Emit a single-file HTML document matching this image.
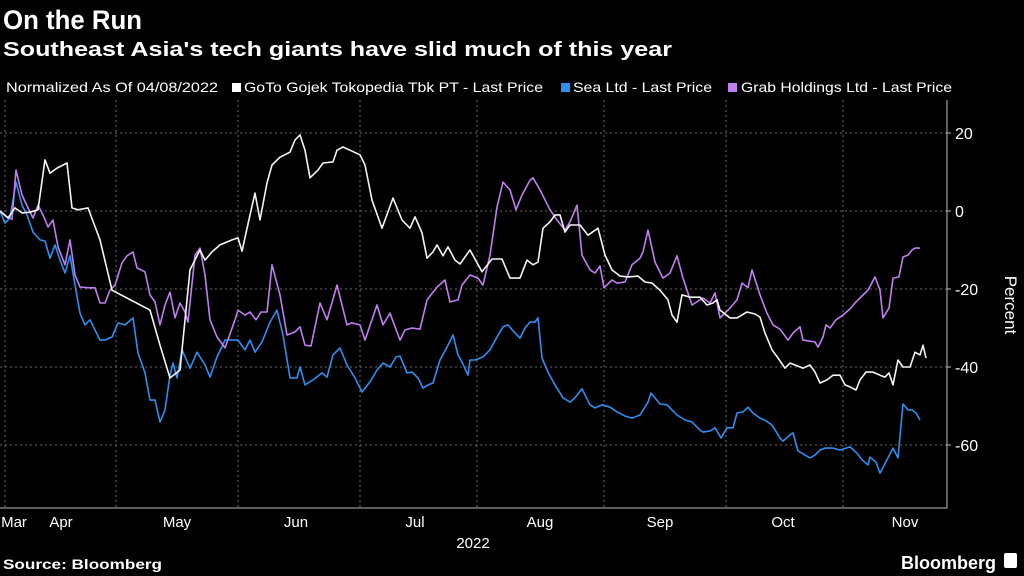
<!DOCTYPE html>
<html><head><meta charset="utf-8">
<style>
body{margin:0;background:#000;width:1024px;height:576px;overflow:hidden;font-family:"Liberation Sans",sans-serif;color:#fff}
svg{position:absolute;left:0;top:0}
</style></head>
<body>
<svg width="1024" height="576">
<text x="3" y="29" font-size="27" font-weight="bold" fill="#fff" textLength="139" lengthAdjust="spacingAndGlyphs">On the Run</text>
<text x="3" y="56" font-size="20" font-weight="bold" fill="#fff" textLength="669" lengthAdjust="spacingAndGlyphs">Southeast Asia's tech giants have slid much of this year</text>
<g font-size="14" fill="#fff">
<text x="6" y="92" textLength="212" lengthAdjust="spacingAndGlyphs">Normalized As Of 04/08/2022</text>
<rect x="232" y="83" width="9" height="9" fill="#fff"/>
<text x="244" y="92" textLength="299" lengthAdjust="spacingAndGlyphs">GoTo Gojek Tokopedia Tbk PT - Last Price</text>
<rect x="561" y="83" width="9" height="9" fill="#2d8ff0"/>
<text x="573" y="92" textLength="139" lengthAdjust="spacingAndGlyphs">Sea Ltd - Last Price</text>
<rect x="728" y="83" width="9" height="9" fill="#c07ef0"/>
<text x="741" y="92" textLength="211" lengthAdjust="spacingAndGlyphs">Grab Holdings Ltd - Last Price</text>
</g>
<g id="grid"></g>
<g id="axes"></g>
<g id="series"></g>
<text x="473" y="548" font-size="15" fill="#fff" text-anchor="middle">2022</text>
<text transform="translate(1005,305) rotate(90)" font-size="17" fill="#fff" text-anchor="middle">Percent</text>
<text x="3" y="569" font-size="14" font-weight="bold" fill="#fff" textLength="159" lengthAdjust="spacingAndGlyphs">Source: Bloomberg</text>
<text x="996" y="569" font-size="18" font-weight="bold" fill="#fff" text-anchor="end">Bloomberg</text>
<rect x="1004" y="553" width="13" height="15" rx="2" fill="#fff"/>
</svg>
<script>
const monthLabels=["Mar","Apr","May","Jun","Jul","Aug","Sep","Oct","Nov"];
const monthDays=[2.8,12.2,35.4,59.2,83,108,132,156.6,181];
const gridDays=[1,23.2,47.6,72,95.4,120.8,145.2,168.6];
const yTicks=[20,0,-20,-40,-60];
const gotoDays=[0,1.6,3,4.4,6,7.6,9,10,11.4,13.4,14.4,15.6,17.6,20,22.4,30,32,34,36,38,40,41,42.4,44,46.4,47.6,48.4,50,51,52,53.4,54.4,56,58,59,60,61,62,63.6,64.6,66.6,67.4,68.6,70,72,73,74.4,76.4,78.6,80.4,82,83,84.4,85.4,86.6,87.4,88.6,89.6,91,92,94,96.4,98.4,100.4,102,104,105.4,106.6,107.6,108.6,110,111,112,113,114,116,117.6,119.6,121,122.4,124,125.6,127.6,129,130.4,132,133.6,134.4,135.4,136.4,138,140,141.4,142.6,143.4,144,146,147.4,149.4,151,152,153,154.4,155.6,157,158,159.4,160.6,162,163,164,165.4,166.6,168,169,170,171.2,172,173.2,174.6,176,177,177.8,178.6,179.6,180.6,182,183,184,184.6,185.2];
const gotoVals=[0,-1.8,0.8,-0.5,-0.3,0.3,13.1,9.7,11,12.3,0.8,0.3,0.8,-7.4,-20.3,-25.4,-34.4,-42.8,-40.8,-15.1,-10,-12.6,-10.5,-8.7,-7.4,-6.9,-10.3,-1,4.6,-2.3,7.2,11.8,13.8,15.1,18.2,19.5,15.6,8.5,10.5,12.3,12.6,15.6,16.4,15.6,14.4,11.8,2.8,-4.4,3.3,-2.3,-4.4,-1.5,-5.6,-12.1,-10.5,-8.7,-11.5,-9.2,-12.6,-13.6,-10,-15.6,-12.3,-12.3,-17.2,-17.2,-12.6,-13.8,-13.1,-4.4,-2.8,-1,-1,-5.4,-3.6,-3.6,-6.2,-4.4,-11.3,-15.1,-16.7,-16.9,-16.7,-18.2,-18.5,-20.3,-22.8,-26.7,-28.5,-21.5,-22.1,-22.1,-24.1,-23.6,-22.8,-25.4,-27.4,-27.4,-25.9,-26.4,-27.2,-31.3,-35.6,-37.7,-40.3,-39,-39.7,-40.3,-39.5,-41.3,-44.1,-43.3,-42.1,-42.1,-44.6,-45.1,-45.9,-43.3,-41.3,-41.3,-42.1,-42.6,-41.5,-44.6,-38.2,-40,-40,-36.2,-36.9,-34.4,-37.7];
const grabDays=[0,1.4,2.4,3.2,4.4,5.6,6.6,7.6,8.6,9.6,10.6,11.6,13,14,15,16,18,19,20,21,22,23,24.4,25.4,26.6,27.4,29,30,31,32,33,34,35,36,37,37.6,39,40,41,42,43.4,45,47,47.6,49,50,51.2,52.2,53.4,54.4,56,57.4,59,60,61,62.2,64,65.4,67.4,69.4,70.4,72,73,75.4,76.6,78,80,81,82.4,84,85.4,87.4,89,90,91.6,92.4,94,95.6,96.6,98,99.4,100.6,102,103.2,104.4,106,106.6,108,110,111.4,113,114,115.4,116.4,118,119,120,120.8,122.4,123.4,125,126.4,128,128.6,129.6,131,132.6,134,135.4,136.6,138.4,140,140.6,142,143,144,146,147.4,148.4,149.6,150.4,152,153.4,154.6,156,157.6,158.6,160,160.6,163,163.6,164.6,165.2,166,167.2,168.6,170,171.2,172.4,173.6,175,176,176.6,177.8,178.6,179.8,180.6,181.6,182.4,183,184];
const grabVals=[0,-1.5,-2.1,10.5,4.1,0.8,-1.8,1.5,-1,-4.1,-2.3,-9.2,-13.8,-7.4,-16.4,-19.5,-19.7,-19.7,-23.6,-23.6,-20.3,-19,-13.3,-11.5,-10.5,-14.6,-15.6,-21.5,-23.3,-29.2,-24.1,-20.8,-27.4,-23.6,-25.9,-28.5,-11.3,-9.5,-16.4,-27.9,-32.3,-35.1,-27.9,-25.4,-26.7,-25.9,-27.9,-25.9,-25.9,-13.8,-21.5,-31.8,-31,-29.7,-34.4,-34.6,-23.6,-27.9,-19,-29.2,-28.7,-29.2,-33.1,-24.1,-29.2,-26.2,-33.1,-30.5,-30,-30.3,-22.8,-19.5,-17.7,-23.3,-22.8,-19,-16.4,-17.2,-19,-11.3,1,7.4,5.4,0.3,4.1,7.9,8.5,5.4,0.3,-2.3,-4.9,-2.8,1.5,-11.3,-15.1,-15.9,-14.1,-19.7,-17.7,-18.5,-18.2,-13.8,-12.1,-10.5,-4.9,-13.1,-17.2,-15.9,-11.5,-17.2,-24.1,-22.8,-22.3,-23.6,-21,-27.4,-24.9,-22.8,-18.5,-19.7,-15.1,-21.5,-26.2,-29.2,-30.3,-33.1,-31.3,-29.7,-33.1,-33.6,-34.9,-32.3,-29.2,-30,-27.9,-26.7,-25.1,-23.3,-21.8,-20.3,-16.9,-20.3,-27.4,-24.9,-17.2,-16.9,-11.8,-11.3,-10,-9.5,-9.5];
const seaDays=[0,1,2,3.2,4.4,5.4,6.6,8,9,10,11,12,13,14,15,16,17,18,20,21,22.4,23.6,25,26.6,27.6,29,30,31,32,33,34,34.6,35.4,36.4,38,39.4,41,42,43.4,45,47.6,49,50,51,52.4,54,55.4,56.6,58,59.4,60,61,62.6,64.4,65.4,66.6,68,69.4,71,72.4,74,75.4,76.6,78,79.2,80,81.4,82.4,83.6,84.6,85.6,86.6,88,89.4,90.6,91.6,92.4,93.6,94,95,96.6,98,99.4,100.6,101.6,103,104,105,106,107,107.6,108.4,109.6,111,112.6,114,115,116.4,118,119,120.4,122,123.4,125,126.4,128,129.6,130.2,132,133.4,134.4,135.4,137,138.4,140,140.6,142,143,144.2,145.4,146.6,147.4,148.6,149.6,150.6,152,153.2,154.4,156,156.6,158,158.6,159.6,161,162,163,164,165,166.6,168,170,171.4,172.4,173.6,174,175.2,176,177.4,178.6,179.6,180.6,181.6,182.4,183.2,184];
const seaVals=[0,-3.1,-1.8,7.4,1.5,-1,-5.4,-7.4,-7.7,-12.1,-8.7,-12.6,-15.9,-11.5,-19,-26.2,-29.2,-27.9,-33.1,-33.1,-32.3,-28.7,-29.2,-27.4,-36.4,-41.5,-48.5,-48.5,-54.1,-51,-42.1,-39,-42.8,-35.6,-40.3,-36.2,-39.5,-42.6,-37.4,-33.1,-33.1,-35.6,-33.1,-36.2,-33.6,-28.5,-25.4,-31.8,-42.8,-42.8,-40,-44.6,-43.3,-41.5,-42.6,-36.9,-35.1,-39.5,-42.8,-46.4,-43.8,-40.8,-39,-40,-37.4,-37.2,-41.5,-41.3,-42.8,-45.4,-44.6,-44.1,-38.2,-34.9,-31.8,-36.9,-38.7,-42.1,-38.2,-38.2,-37.4,-35.6,-32.3,-29.7,-29.2,-31.3,-32.6,-30,-28.5,-28.5,-27.4,-37.7,-41.3,-44.6,-47.9,-49,-47.9,-45.6,-49.7,-50.5,-49.7,-50.3,-51.5,-52.6,-53.1,-52.3,-49,-46.7,-49.5,-49.7,-51,-52.3,-53.6,-54.1,-56.2,-56.7,-56.4,-55.6,-58.2,-55.6,-55.6,-51.8,-51.5,-50.3,-51.8,-53.1,-53.8,-54.9,-58.2,-59,-57.4,-56.9,-61.5,-62.6,-63.3,-62.6,-61.3,-60.8,-60.8,-61.3,-60.5,-62.1,-63.8,-65.1,-63.1,-64.4,-67.2,-63.8,-60.8,-63.3,-49.5,-51,-51,-51.8,-53.6];

const NS="http://www.w3.org/2000/svg";
const X0=0,X1=940,D0=0,D1=188;
const Y0=211,PPU=3.9;
const PL=0,PR=947,PT=100,PB=508;
function xs(d){return X0+(d-D0)/(D1-D0)*(X1-X0);}
function ys(v){return Y0-v*PPU;}
function mk(tag,attrs,parent){const e=document.createElementNS(NS,tag);for(const k in attrs)e.setAttribute(k,attrs[k]);parent.appendChild(e);return e;}
const grid=document.getElementById('grid'),axes=document.getElementById('axes'),ser=document.getElementById('series');
gridDays.forEach((d,i)=>{
 const l=mk('line',{x1:xs(d),x2:xs(d),y1:PT,y2:PB,stroke:'#6a6a6a','stroke-width':1,'stroke-dasharray':'2,3'},grid);
 
 
});
yTicks.forEach(v=>{
 const l=mk('line',{x1:PL,x2:PR,y1:ys(v),y2:ys(v),stroke:'#6a6a6a','stroke-width':1,'stroke-dasharray':'2,3'},grid);
 
 
 const t=mk('line',{x1:PR,x2:PR+4,y1:ys(v),y2:ys(v),stroke:'#bbb'},axes);
 
 
 const tx=mk('text',{x:PR+8,y:ys(v)+6,'font-size':16,fill:'#fff'},axes);
 tx.textContent=v;
 
 
});
const ax=mk('path',{d:`M${PL},${PB}H${PR}V${PT}`,fill:'none',stroke:'#bbb','stroke-width':1},axes);


monthLabels.forEach((m,i)=>{
 const t=mk('text',{x:xs(monthDays[i]),y:527,'font-size':15,fill:'#fff','text-anchor':'middle'},axes);
 t.textContent=m;
 
 
});
function line(days,vals,color,name){
 const d=days.map((dd,i)=>(i?'L':'M')+xs(dd).toFixed(1)+','+ys(vals[i]).toFixed(1)).join('');
 const p=mk('path',{d:d,fill:'none',stroke:color,'stroke-width':1.6,'stroke-linejoin':'round'},ser);
 
 
}
line(seaDays,seaVals,'#2d8ff0','sea-line');
line(grabDays,grabVals,'#c07ef0','grab-line');
line(gotoDays,gotoVals,'#f4f4f4','goto-line');
</script>
</body></html>
